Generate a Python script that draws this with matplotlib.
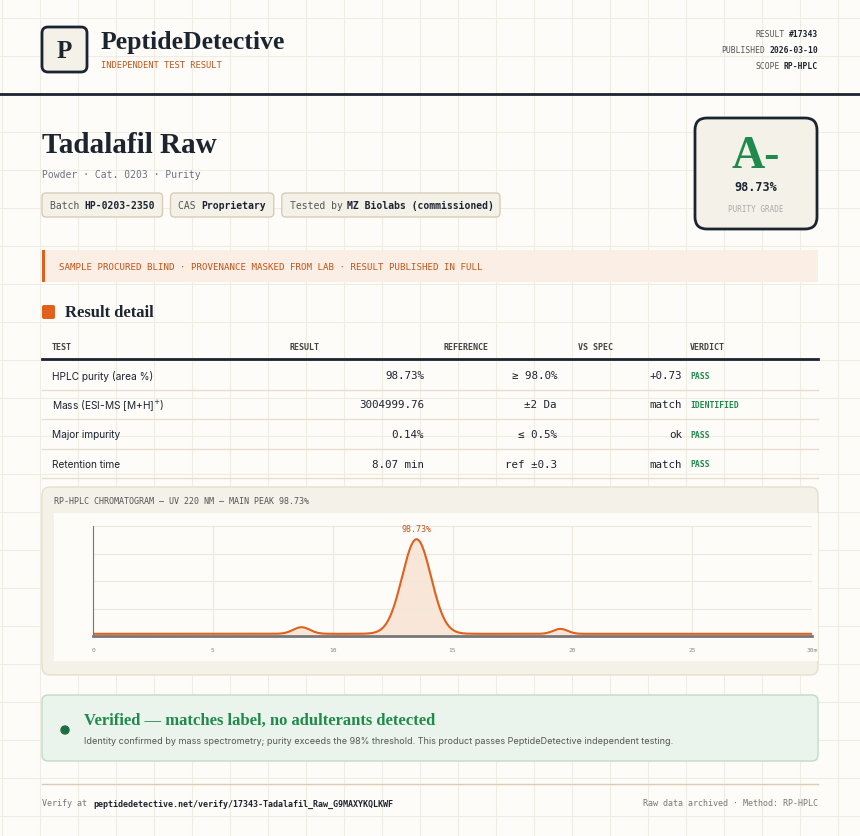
import numpy as np
import matplotlib
matplotlib.use("Agg")
import matplotlib.pyplot as plt
from matplotlib.patches import FancyBboxPatch, Rectangle

# ---- data ----
product = "Tadalafil Raw"
subtitle = "Powder · Cat. 0203 · Purity"
grade = "A-"
purity = "98.73%"
meta_labels = ["RESULT", "PUBLISHED", "SCOPE"]
meta_values = ["#17343", "2026-03-10", "RP-HPLC"]
chips = [("Batch ", "HP-0203-2350"), ("CAS ", "Proprietary"), ("Tested by ", "MZ Biolabs (commissioned)")]
col_headers = ["TEST", "RESULT", "REFERENCE", "VS SPEC", "VERDICT"]
tests = ["HPLC purity (area %)", "Mass (ESI-MS [M+H]$^{+}$)", "Major impurity", "Retention time"]
results = ["98.73%", "3004999.76", "0.14%", "8.07 min"]
references = ["≥ 98.0%", "±2 Da", "≤ 0.5%", "ref ±0.3"]
vs_spec = ["+0.73", "match", "ok", "match"]
verdicts = ["PASS", "IDENTIFIED", "PASS", "PASS"]
peak_times = [8.7, 13.5, 19.5]
peak_heights = [6.0, 86.0, 4.5]
peak_widths = [0.35, 0.6, 0.3]
baseline = 2.0
x_ticks = [0, 5, 10, 15, 20, 25, 30]
x_tick_labels = ["0", "5", "10", "15", "20", "25", "30m"]

W, H = 860, 837
BG = "#fdfcf8"; INK = "#1c2430"; ORANGE = "#e0601c"; GREEN = "#1f8a4c"; GREY = "#6b7280"
MONO = "DejaVu Sans Mono"; SERIF = "Liberation Serif"; SANS = "Inter"

fig = plt.figure(figsize=(W/100, H/100), dpi=100, facecolor=BG)
ax = fig.add_axes([0, 0, 1, 1]); ax.set_xlim(0, W); ax.set_ylim(H, 0); ax.axis("off")

for gx in range(2, W, 38):
    ax.plot([gx, gx], [0, H], color="#eeece3", lw=0.8, zorder=0)
for gy in range(19, H, 38):
    ax.plot([0, W], [gy, gy], color="#eeece3", lw=0.8, zorder=0)

def T(x, y, s, **kw):
    kw.setdefault("va", "center"); kw.setdefault("color", INK)
    ax.text(x, y, s, **kw)

def box(x, y, w, h, fc, ec, lw=1, r=4, z=1):
    ax.add_patch(FancyBboxPatch((x, y), w, h, boxstyle=f"round,pad=0,rounding_size={r}",
                                fc=fc, ec=ec, lw=lw, zorder=z))

# header
box(42, 28, 45, 45, "#f4f1e9", INK, lw=2, r=6)
T(64.5, 51, "P", ha="center", fontsize=18, fontfamily=SERIF, fontweight="bold", zorder=3)
T(101, 42, "PeptideDetective", fontsize=18.5, fontfamily=SERIF, fontweight="semibold")
T(101, 65, "INDEPENDENT TEST RESULT", fontsize=6.3, fontfamily=MONO, color="#c4531a")
for i, (l, v) in enumerate(zip(meta_labels, meta_values)):
    y = 34 + i*16
    T(818, y, v, ha="right", fontsize=5.8, fontfamily=MONO, fontweight="bold")
    T(818 - len(v)*4.85 - 4, y, l, ha="right", fontsize=5.8, fontfamily=MONO, color="#555")
ax.plot([0, W], [95, 95], color=INK, lw=2)

T(42, 145, product, fontsize=21, fontfamily=SERIF, fontweight="bold")
T(42, 175, subtitle, fontsize=7, fontfamily=MONO, color=GREY)
cx = 42
for lab, val in chips:
    w = (len(lab)+len(val))*5.75 + 17
    box(cx, 194, w, 24, "#f4f1e9", "#d8ccb4", r=4)
    T(cx+8, 206, lab, fontsize=7, fontfamily=MONO, color="#555", zorder=3)
    T(cx+8+len(lab)*5.75, 206, val, fontsize=7, fontfamily=MONO, fontweight="bold", zorder=3)
    cx += w + 8

box(695, 119, 122, 111, "#f4f1e9", INK, lw=2, r=12)
T(756, 157, grade, ha="center", fontsize=33, fontfamily=SERIF, fontweight="bold", color=GREEN, zorder=3)
T(756, 187, purity, ha="center", fontsize=8.5, fontfamily=MONO, fontweight="bold", zorder=3)
T(756, 209, "PURITY GRADE", ha="center", fontsize=5.5, fontfamily=MONO, color="#aaa", zorder=3)

ax.add_patch(Rectangle((42, 251), 776, 32, fc="#fbeee4", ec="none", zorder=1))
ax.add_patch(Rectangle((42, 251), 3, 32, fc=ORANGE, ec="none", zorder=2))
T(59, 267, "SAMPLE PROCURED BLIND · PROVENANCE MASKED FROM LAB · RESULT PUBLISHED IN FULL",
  fontsize=6.6, fontfamily=MONO, color="#c4531a", zorder=3)

box(42, 306, 13, 14, ORANGE, "none", r=2)
T(65, 313, "Result detail", fontsize=12, fontfamily=SERIF, fontweight="bold")

hx = [52, 289, 443, 578, 690]
for x, h in zip(hx, col_headers):
    T(x, 347, h, fontsize=6, fontfamily=MONO, fontweight="bold", color="#444")
ax.plot([42, 818], [360, 360], color=INK, lw=2)
for i in range(4):
    y = 376 + i*29.5
    T(52, y, tests[i], fontsize=7.3, fontfamily=SANS)
    T(424, y, results[i], ha="right", fontsize=7.8, fontfamily=MONO)
    T(557, y, references[i], ha="right", fontsize=7.8, fontfamily=MONO)
    T(682, y, vs_spec[i], ha="right", fontsize=7.8, fontfamily=MONO)
    T(690, y, verdicts[i], fontsize=5.8, fontfamily=MONO, fontweight="bold", color=GREEN)
    ax.plot([42, 818], [y+14.5, y+14.5], color="#e6dfcf", lw=1)

# chromatogram card
box(42, 488, 776, 188, "#f4f1e9", "#e6dfcf", r=8)
T(54, 502, "RP-HPLC CHROMATOGRAM — UV 220 NM — MAIN PEAK 98.73%", fontsize=6, fontfamily=MONO, color="#555", zorder=3)
ax.add_patch(Rectangle((54, 514), 764, 148, fc=BG, ec="none", zorder=2))

cax = fig.add_axes([93/W, 1-637/H, (812-93)/W, (637-527)/H])
cax.set_facecolor(BG)
t = np.linspace(0, 30, 1500)
sig = np.full_like(t, baseline)
for c, h, s in zip(peak_times, peak_heights, peak_widths):
    sig += h*np.exp(-0.5*((t-c)/s)**2)
cax.fill_between(t, baseline, sig, color="#f8e6d8", zorder=1)
cax.plot(t, sig, color=ORANGE, lw=1.5, zorder=2)
cax.set_xlim(0, 30); cax.set_ylim(0, 100)
cax.set_xticks(x_ticks); cax.set_xticklabels(x_tick_labels, fontsize=4.5, fontfamily=MONO, color="#888")
cax.set_yticks([25, 50, 75, 100]); cax.set_yticklabels([])
cax.tick_params(length=0, pad=8)
cax.grid(True, color="#ece8dc", lw=0.8)
for s in ["top", "right"]:
    cax.spines[s].set_visible(False)
cax.spines["left"].set_color("#777"); cax.spines["bottom"].set_color("#777")
cax.spines["bottom"].set_linewidth(2)
imax = np.argmax(sig)
cax.annotate(purity, (t[imax], sig[imax]), xytext=(0, 6), textcoords="offset points",
             ha="center", fontsize=6, fontfamily=MONO, color="#c4531a")

# verified
box(42, 696, 776, 66, "#eaf3ec", "#bfdcc8", r=6)
ax.add_patch(plt.Circle((65, 731), 4, color="#1f6e42", zorder=3))
T(84, 721, "Verified — matches label, no adulterants detected", fontsize=12, fontfamily=SERIF, fontweight="bold", color=GREEN, zorder=3)
T(84, 742, "Identity confirmed by mass spectrometry; purity exceeds the 98% threshold. This product passes PeptideDetective independent testing.",
  fontsize=6.5, fontfamily=SANS, color="#555", zorder=3)

ax.plot([42, 818], [785, 785], color="#d8ccb4", lw=1)
T(42, 804, "Verify at", fontsize=6, fontfamily=MONO, color="#777")
T(93, 804, "peptidedetective.net/verify/17343-Tadalafil_Raw_G9MAXYKQLKWF", fontsize=6, fontfamily=MONO, fontweight="bold")
T(818, 804, "Raw data archived · Method: RP-HPLC", ha="right", fontsize=6, fontfamily=MONO, color="#777")

fig.savefig("out.png", dpi=100, facecolor=BG)
